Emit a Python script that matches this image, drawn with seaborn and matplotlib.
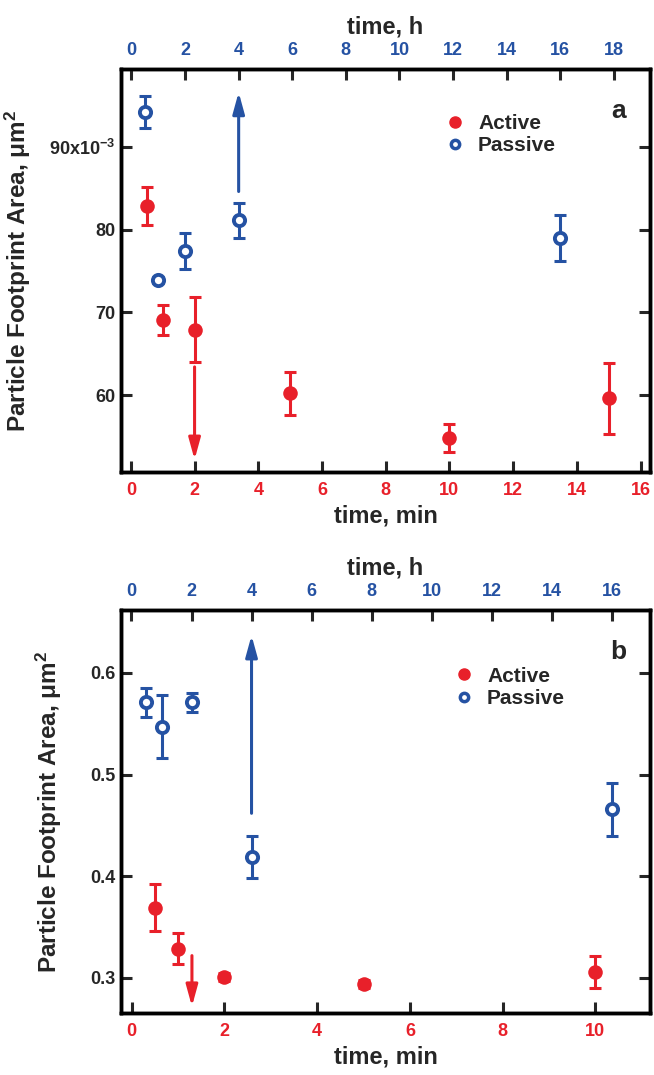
import matplotlib
matplotlib.use("Agg")
import matplotlib.pyplot as plt
import seaborn as sns
from matplotlib.lines import Line2D

# =============================================================================
# Data (areas in um^2)
# =============================================================================
# panel a
a_active_min = [0.5, 1, 2, 5, 10, 15]
a_active_area = [0.0829, 0.0691, 0.0679, 0.0602, 0.0548, 0.0596]
a_active_err = [0.0023, 0.0018, 0.0039, 0.0026, 0.0017, 0.0043]
a_passive_h = [0.5, 1, 2, 4, 16]
a_passive_area = [0.0942, 0.0739, 0.0774, 0.0811, 0.0790]
a_passive_err = [0.0019, 0.0004, 0.0022, 0.0021, 0.0028]
a_down_arrow = [2, 0.0634, 0.0522]   # min, start, tip
a_up_arrow = [4, 0.0846, 0.0966]     # h, start, tip

# panel b
b_active_min = [0.5, 1, 2, 5, 10]
b_active_area = [0.369, 0.329, 0.301, 0.294, 0.306]
b_active_err = [0.023, 0.015, 0.004, 0.004, 0.016]
b_passive_h = [0.5, 1, 2, 4, 16]
b_passive_area = [0.571, 0.547, 0.571, 0.419, 0.466]
b_passive_err = [0.014, 0.031, 0.009, 0.021, 0.026]
b_down_arrow = [1.3, 0.322, 0.272]
b_up_arrow = [4, 0.462, 0.637]

RED = '#e8202a'
BLUE = '#2552a3'
ARROW = '-|>,head_length=0.8,head_width=0.22'

sns.set_style("ticks")
plt.rcParams['font.family'] = ['Liberation Sans', 'DejaVu Sans']
plt.rcParams['font.weight'] = 'bold'
plt.rcParams['mathtext.default'] = 'regular'


def draw_panel(ax, act_x, act_y, act_e, pas_x, pas_y, pas_e, down, up,
               xlim_min, xlim_h, ylim, yticks, yticklabels, xticks_min, xticks_h,
               letter, ylab_x, leg_xy):
    ax2 = ax.twiny()

    # active (minutes, bottom axis)
    ax.errorbar(act_x, act_y, yerr=act_e, fmt='none', ecolor=RED,
                elinewidth=2.2, capsize=4.5, capthick=2.2, zorder=2)
    sns.scatterplot(x=act_x, y=act_y, ax=ax, color=RED, s=110,
                    edgecolor=RED, linewidth=0, zorder=3)
    ax.annotate('', xy=(down[0], down[2]), xytext=(down[0], down[1]),
                arrowprops=dict(arrowstyle=ARROW, color=RED, lw=2.2,
                                mutation_scale=16, shrinkA=0, shrinkB=0))

    # passive (hours, top axis)
    ax2.errorbar(pas_x, pas_y, yerr=pas_e, fmt='none', ecolor=BLUE,
                 elinewidth=2.2, capsize=4.5, capthick=2.2, zorder=2)
    sns.scatterplot(x=pas_x, y=pas_y, ax=ax2, color='white', s=65,
                    edgecolor=BLUE, linewidth=2.8, zorder=3)
    ax2.annotate('', xy=(up[0], up[2]), xytext=(up[0], up[1]),
                 arrowprops=dict(arrowstyle=ARROW, color=BLUE, lw=2.2,
                                 mutation_scale=16, shrinkA=0, shrinkB=0))

    ax.set_xlim(*xlim_min)
    ax2.set_xlim(*xlim_h)
    ax.set_ylim(*ylim)
    ax.set_yticks(yticks)
    ax.set_yticklabels(yticklabels)
    ax.set_xticks(xticks_min)
    ax2.set_xticks(xticks_h)

    for a in (ax, ax2):
        for sp in a.spines.values():
            sp.set_linewidth(2.5)
            sp.set_color('black')
            sp.set_visible(True)
    ax.tick_params(axis='x', direction='in', length=8, width=2.2,
                   labelcolor=RED, labelsize=13, pad=7)
    ax.tick_params(axis='y', direction='in', length=8, width=2.2,
                   left=True, right=True, labelsize=13, pad=4)
    ax2.tick_params(axis='x', direction='in', length=8, width=2.2,
                    labelcolor=BLUE, labelsize=13, pad=7)

    ax.set_xlabel('time, min', fontsize=17, fontweight='bold', labelpad=4)
    ax2.set_xlabel('time, h', fontsize=17, fontweight='bold', labelpad=6)
    ax.set_ylabel('Particle Footprint Area, μm$^2$', fontsize=17.5,
                  fontweight='bold')
    ax.yaxis.set_label_coords(ylab_x, 0.5)

    handles = [Line2D([], [], ls='none', marker='o', ms=8, color=RED, mec=RED),
               Line2D([], [], ls='none', marker='o', ms=6, mfc='white', mec=BLUE, mew=2.5)]
    ax2.legend(handles, ['Active', 'Passive'], frameon=False, loc='upper left',
               bbox_to_anchor=leg_xy, fontsize=15, handletextpad=0.6,
               labelspacing=0.15, handlelength=1.0, borderpad=0, borderaxespad=0)
    ax2.text(0.94, 0.895, letter, transform=ax2.transAxes, fontsize=19,
             fontweight='bold', ha='center', va='center')
    return ax2


fig = plt.figure(figsize=(6.54, 10.75), dpi=100)
ax_a = fig.add_axes([0.185, 0.5609, 0.809, 0.3749])
ax_b = fig.add_axes([0.185, 0.0577, 0.809, 0.3749])

draw_panel(ax_a, a_active_min, a_active_area, a_active_err,
           a_passive_h, a_passive_area, a_passive_err, a_down_arrow, a_up_arrow,
           (-0.31, 16.3), (-0.39, 19.35), (0.0507, 0.0994),
           [0.06, 0.07, 0.08, 0.09], ['60', '70', '80', '90x10$^{-3}$'],
           range(0, 17, 2), range(0, 19, 2), 'a', -0.166, (0.612, 0.888))

draw_panel(ax_b, b_active_min, b_active_area, b_active_err,
           b_passive_h, b_passive_area, b_passive_err, b_down_arrow, b_up_arrow,
           (-0.23, 11.18), (-0.35, 17.28), (0.2656, 0.662),
           [0.3, 0.4, 0.5, 0.6], ['0.3', '0.4', '0.5', '0.6'],
           range(0, 11, 2), range(0, 17, 2), 'b', -0.108, (0.629, 0.859))

fig.savefig('out.png', dpi=100)
